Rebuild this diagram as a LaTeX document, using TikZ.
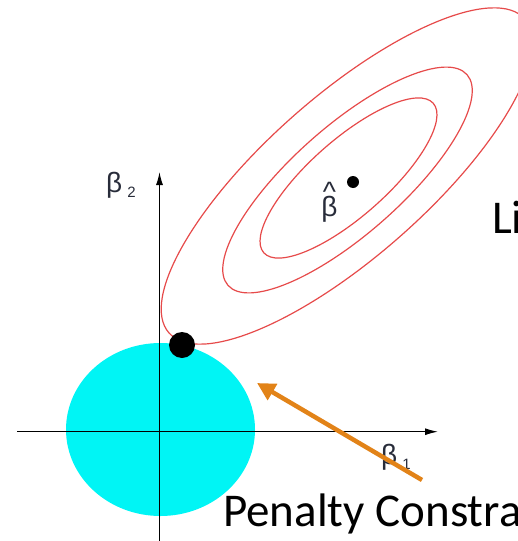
\documentclass[tikz,border=0pt]{standalone}
\usepackage{
fontspec,
xcolor,
tikz
}
\usetikzlibrary{
positioning,
arrows.meta,
calc
}
\setmainfont{Carlito}
\newfontfamily\grk{Liberation Sans}
\definecolor{regioncyan}{RGB}{0,245,245}
\definecolor{contourred}{RGB}{230,74,74}
\definecolor{pointerorange}{RGB}{226,131,24}
\definecolor{labelgray}{RGB}{40,44,58}
\tikzset{
axis/.style={
-{Latex[length=13pt,width=7pt]},
line width=1.2pt
},
contour/.style={
draw=contourred,
line width=1.2pt
},
region/.style={
fill=regioncyan
},
bigdot/.style={
circle,
fill=black,
inner sep=0pt,
minimum size=26pt
},
smalldot/.style={
circle,
fill=black,
inner sep=0pt,
minimum size=12pt
},
greeklabel/.style={
text=labelgray,
font=\grk\fontsize{28}{30}\selectfont,
inner sep=0pt
},
caption/.style={
inner sep=0pt,
anchor=base west
},
pointer/.style={
-{Triangle[length=18pt,width=18pt]},
line width=4.5pt,
draw=pointerorange
}
}

\begin{document}
\begin{tikzpicture}[x=1pt,y=-1pt]
\useasboundingbox (0,0) rectangle (518,541);
\clip (0,0) rectangle (518,541);

% constraint region
\fill[region] (160.5,429.5) ellipse [x radius=94.5, y radius=86.5];

% axes
\coordinate (xfrom) at (17,431.7);
\coordinate (xto) at (438,431.7);
\coordinate (yfrom) at (159.5,541);
\coordinate (yto) at (159.5,172);
\draw[axis] (xfrom) -- (xto);
\draw[axis] (yfrom) -- (yto);

% contours around the estimate
\foreach \cx/\cy/\s in {348.5/178/1,347.5/180/1.41,347/176/2.1}
  \draw[contour, rotate around={41.4:(\cx,\cy)}] (\cx,\cy) ellipse [x radius=113*\s, y radius=38.3*\s];

\node[bigdot] (touch) at (182,345) {};
\node[smalldot] (betahat) at (353,182) {};

\node[greeklabel, anchor=base] (hatlabel) at (329.5,216) {\shortstack{\raisebox{-9pt}[0pt][0pt]{\fontsize{28}{28}\selectfont\textasciicircum}\\β}};
\node[greeklabel, anchor=base west] (ytitle) at (106,192) {β\hspace{5pt}\raisebox{-5pt}{\fontsize{15}{15}\selectfont 2}};
\node[greeklabel, anchor=base west] (xtitle) at (381,464) {β\hspace{5pt}\raisebox{-5pt}{\fontsize{15}{15}\selectfont 1}};

% callouts
\node[caption, font=\fontsize{47}{50}\selectfont] (lik) at (492,233) {Li};
\node[caption, font=\fontsize{47}{50}\selectfont] (pen) at (223,526) {Penalty Constra};
\coordinate (pointertail) at (422,480);
\coordinate (pointertip) at (257,383);
\draw[pointer] (pointertail) -- (pointertip);
\end{tikzpicture}
\end{document}
